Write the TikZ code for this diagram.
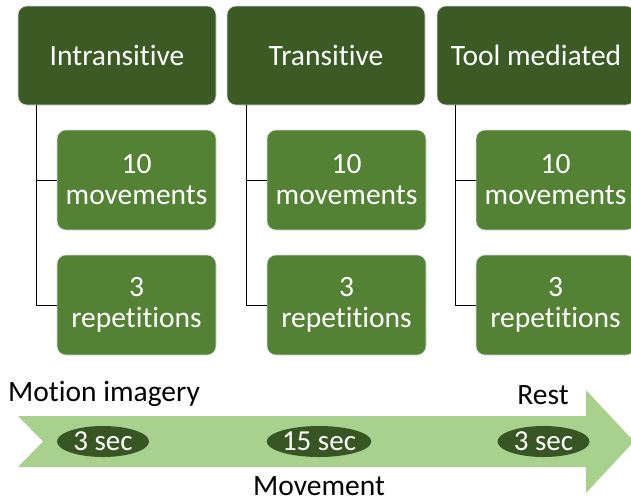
\documentclass[tikz,border=0pt]{standalone}
\usepackage{fontspec}
\setmainfont{Carlito}[Ligatures={NoCommon,NoContextual}]
\usetikzlibrary{shapes.geometric}
\definecolor{topgreen}{HTML}{3B5A24}
\definecolor{subgreen}{HTML}{548235}
\definecolor{arrowgreen}{HTML}{A9D18E}
\definecolor{ellgreen}{HTML}{375623}
\begin{document}
\begin{tikzpicture}[x=1pt,y=-1pt,
  topbox/.style={draw=black!15,line width=0.6pt,fill=topgreen,rounded corners=9pt,minimum width=198pt,minimum height=99pt,text=white,font=\fontsize{29.5}{31}\selectfont,align=center,inner sep=0pt},
  subbox/.style={draw=black!15,line width=0.6pt,fill=subgreen,rounded corners=9pt,minimum width=159pt,minimum height=100pt,text=white,font=\fontsize{29.5}{31}\selectfont,align=center,inner sep=0pt},
  conn/.style={draw=black,line width=0.9pt},
  secell/.style={ellipse,fill=ellgreen,minimum width=92pt,minimum height=31pt,inner sep=0pt,text=white,font=\fontsize{29}{31}\selectfont},
  lbl/.style={text=black,font=\fontsize{29.5}{31}\selectfont,inner sep=0pt}]
\useasboundingbox (0,0) rectangle (631,501);
\clip (0,0) rectangle (631,501);
% top boxes
\node[topbox] (t1) at (117,55.5) {Intransitive};
\node[topbox] (t2) at (326,55.5) {Transitive};
\node[topbox] (t3) at (536,55.5) {Tool mediated};
% sub boxes
\node[subbox] (a1) at (136.5,180) {10\\movements};
\node[subbox] (b1) at (136.5,305) {3\\repetitions};
\node[subbox] (a2) at (346.5,180) {10\\movements};
\node[subbox] (b2) at (346.5,305) {3\\repetitions};
\node[subbox] (a3) at (555.5,180) {10\\movements};
\node[subbox] (b3) at (555.5,305) {3\\repetitions};
% connectors
\draw[conn] ([xshift=19pt]t1.south west) |- (a1.west);
\draw[conn] ([xshift=19pt]t1.south west) |- (b1.west);
\draw[conn] ([xshift=20pt]t2.south west) |- (a2.west);
\draw[conn] ([xshift=20pt]t2.south west) |- (b2.west);
\draw[conn] ([xshift=19pt]t3.south west) |- (a3.west);
\draw[conn] ([xshift=19pt]t3.south west) |- (b3.west);
% arrow
\fill[arrowgreen] (18,416) -- (586,416) -- (586,390) -- (634,441.5) -- (586,493) -- (586,467) -- (18,467) -- (43,441.5) -- cycle;
\node[secell] (e1) at (103,441.5) {3 sec};
\node[secell] (e2) at (319,441.5) {15 sec};
\node[secell] (e3) at (543.5,441.5) {3 sec};
% labels
\node[lbl,anchor=base west] (m1) at (8,401) {Motion imagery};
\node[lbl,anchor=base] (m2) at (543,404) {Rest};
\node[lbl,anchor=base] (m3) at (319,495) {Movement};
\end{tikzpicture}
\end{document}
